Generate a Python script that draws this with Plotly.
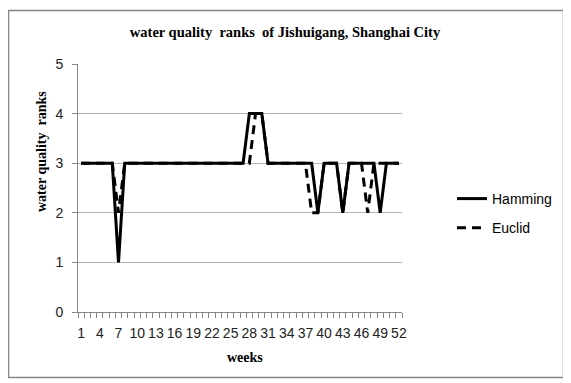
import plotly.graph_objects as go

weeks = list(range(1, 53))
hamming = [3, 3, 3, 3, 3, 3, 1, 3, 3, 3,
           3, 3, 3, 3, 3, 3, 3, 3, 3, 3,
           3, 3, 3, 3, 3, 3, 3, 4, 4, 4,
           3, 3, 3, 3, 3, 3, 3, 3, 2, 3,
           3, 3, 2, 3, 3, 3, 3, 3, 2, 3,
           3, 3]
euclid = [3, 3, 3, 3, 3, 3, 2, 3, 3, 3,
          3, 3, 3, 3, 3, 3, 3, 3, 3, 3,
          3, 3, 3, 3, 3, 3, 3, 3, 4, 4,
          3, 3, 3, 3, 3, 3, 3, 2, 2, 3,
          3, 3, 2, 3, 3, 3, 2, 3, 3, 3,
          3, 3]
tick_weeks = list(range(1, 53, 3))
tick_labels = [str(w) for w in tick_weeks]

serif = "Liberation Serif"
sans = "Liberation Sans"

fig = go.Figure()
fig.add_trace(go.Scatter(x=weeks, y=hamming, mode="lines", name="Hamming",
                         line=dict(color="black", width=3), legendgroup="a"))
fig.add_trace(go.Scatter(x=weeks, y=euclid, mode="lines", name="Euclid",
                         line=dict(color="black", width=3, dash="9px,6px"),
                         legendgroup="b"))

OFF = 8  # page body margin
W, H = 571 - OFF, 383 - OFF
L = 78 - OFF
T = 64 - OFF
R = W - (402 - OFF)
B = H - (312 - OFF)
pw, ph = W - L - R, H - T - B

def px_x(p):
    return (p - OFF - L) / pw

def px_y(p):
    return (H - B - (p - OFF)) / ph

fig.update_layout(
    width=W, height=H,
    margin=dict(l=L, r=R, t=T, b=B, autoexpand=False),
    paper_bgcolor="white", plot_bgcolor="white",
    title=dict(text="<b>water quality  ranks  of Jishuigang, Shanghai City</b>",
               x=(285 - OFF) / W, xanchor="center", y=1 - (32 - OFF) / H,
               yanchor="middle",
               font=dict(family=serif, size=14.5, color="black")),
    showlegend=True,
    legend=dict(x=px_x(452), xanchor="left", y=px_y(183), yanchor="top",
                font=dict(family=sans, size=14, color="black"),
                tracegroupgap=8, traceorder="grouped",
                bgcolor="rgba(0,0,0,0)"),
    shapes=[dict(type="rect", xref="paper", yref="paper",
                 x0=px_x(8.5), x1=px_x(563.5), y0=px_y(377.5), y1=px_y(10.5),
                 line=dict(color="#868686", width=1.5), layer="below")],
    annotations=[
        dict(text="<b>water quality  ranks</b>", textangle=-90, showarrow=False,
             xref="paper", yref="paper", x=px_x(41), y=px_y(152),
             xanchor="center", yanchor="middle",
             font=dict(family=serif, size=14, color="black")),
        dict(text="<b>weeks</b>", showarrow=False,
             xref="paper", yref="paper", x=px_x(245), y=px_y(357),
             xanchor="center", yanchor="middle",
             font=dict(family=serif, size=14, color="black")),
    ],
)

fig.update_xaxes(
    range=[0.5, 52.5], tickmode="array", tickvals=tick_weeks, ticktext=tick_labels,
    ticks="", showgrid=False, zeroline=False, automargin=False,
    ticklabelstandoff=8,
    showline=True, linecolor="#868686", linewidth=1,
    tickfont=dict(family=sans, size=14, color="#222"),
    minor=dict(tickmode="linear", tick0=0.5, dtick=1, ticks="outside",
               ticklen=5, tickcolor="#868686", showgrid=False),
)
fig.update_yaxes(
    range=[0, 5], dtick=1, ticks="outside", ticklen=5, tickcolor="#868686",
    showgrid=True, gridcolor="#b4b4b4", gridwidth=1, zeroline=False,
    automargin=False, ticklabelstandoff=6,
    showline=True, linecolor="#868686", linewidth=1,
    tickfont=dict(family=sans, size=14, color="#222"),
)

fig.write_html("out.html")
